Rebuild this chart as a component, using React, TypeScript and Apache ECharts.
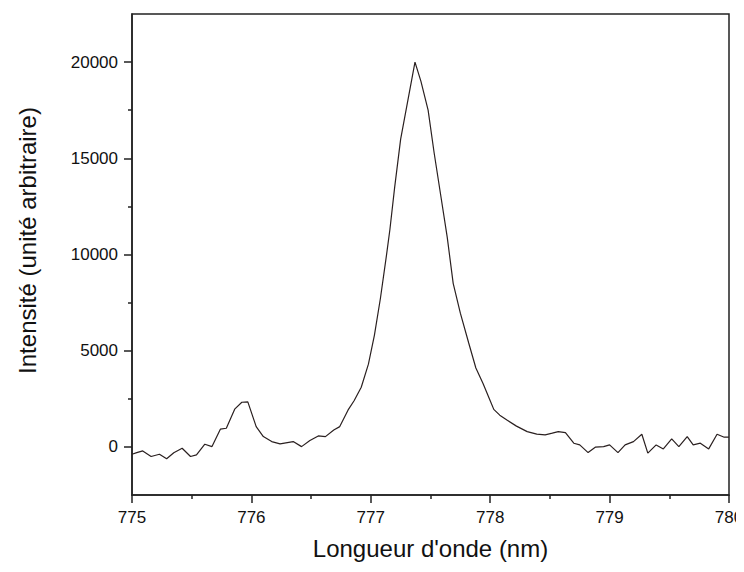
import React, { useEffect, useRef } from "react";
import * as echarts from "echarts";

const wavelengths: number[] = [
  775.0, 775.04, 775.09, 775.16, 775.23, 775.29, 775.35, 775.42, 775.49, 775.54,
  775.61, 775.67, 775.74, 775.79, 775.86, 775.92, 775.97, 776.04, 776.1, 776.17,
  776.24, 776.35, 776.42, 776.49, 776.56, 776.62, 776.69, 776.74, 776.81, 776.86,
  776.92, 776.98, 777.03, 777.08, 777.13, 777.16, 777.2, 777.25, 777.37, 777.42,
  777.48, 777.53, 777.58, 777.64, 777.69, 777.75, 777.82, 777.88, 777.94, 778.0,
  778.03, 778.08, 778.14, 778.22, 778.31, 778.39, 778.46, 778.52, 778.57, 778.63,
  778.7, 778.75, 778.82, 778.88, 778.95, 779.0, 779.07, 779.13, 779.2, 779.27,
  779.32, 779.39, 779.45, 779.52, 779.58, 779.65, 779.7, 779.76, 779.83, 779.9,
  779.96, 780.0,
];

const intensities: number[] = [
  -380, -300, -210, -500, -380, -620, -300, -70, -500, -415,
  140, 15, 920, 970, 1960, 2320, 2340, 1055, 535, 275,
  156, 275, 15, 330, 570, 535, 883, 1055, 1922, 2400,
  3100, 4300, 5800, 7700, 9900, 11300, 13500, 16000, 20000, 19000,
  17500, 15300, 13300, 10900, 8500, 6950, 5400, 4100, 3300, 2400,
  1950, 1650, 1400, 1080, 795, 660, 623, 712, 795, 743,
  192, 104, -296, -16, 15, 104, -296, 104, 275, 660,
  -327, 104, -104, 416, 15, 535, 104, 192, -104, 660,
  504, 504,
];

const xMajorTicks: number[] = [775, 776, 777, 778, 779, 780];
const yMajorTicks: number[] = [0, 5000, 10000, 15000, 20000];
const yMinorTicks: number[] = [2500, 7500, 12500, 17500];

export default function App() {
  const ref = useRef<HTMLDivElement>(null);

  useEffect(() => {
    if (!ref.current) return;
    const chart = echarts.init(ref.current, undefined, { renderer: "svg" });
    const font = "Liberation Sans, Arial, sans-serif";
    const axisColor = "#222222";
    const data = wavelengths.map((w, i) => [w, intensities[i]]);

    chart.setOption({
      animation: false,
      backgroundColor: "#ffffff",
      grid: {
        left: 132,
        right: 15,
        top: 14,
        bottom: 77,
        show: true,
        borderColor: axisColor,
        borderWidth: 1.5,
        outerBoundsMode: "none",
      },
      xAxis: [
        {
          type: "value",
          min: 775,
          max: 780,
          interval: 1,
          name: "Longueur d'onde (nm)",
          nameLocation: "middle",
          nameGap: 41,
          nameTextStyle: { fontFamily: font, fontSize: 24, color: "#111" },
          axisLine: { show: true, onZero: false, lineStyle: { color: axisColor, width: 1.5 } },
          axisTick: { show: true, customValues: xMajorTicks, length: 8, lineStyle: { color: axisColor, width: 1.5 } },
          minorTick: { show: true, splitNumber: 2, length: 4, lineStyle: { color: axisColor, width: 1.5 } },
          axisLabel: {
            customValues: xMajorTicks,
            margin: 14,
            fontFamily: font,
            fontSize: 17,
            color: "#111",
            formatter: (v: number) => String(v),
          },
          splitLine: { show: false },
        },
      ],
      yAxis: [
        {
          type: "value",
          min: -2500,
          max: 22500,
          name: "Intensité (unité arbitraire)",
          nameLocation: "middle",
          nameRotate: 90,
          nameGap: 93,
          nameTextStyle: { fontFamily: font, fontSize: 24, color: "#111", padding: [0, 0, 0, 28] },
          axisLine: { show: true, onZero: false, lineStyle: { color: axisColor, width: 1.5 } },
          axisTick: { show: true, customValues: yMajorTicks, length: 8, lineStyle: { color: axisColor, width: 1.5 } },
          axisLabel: {
            customValues: yMajorTicks,
            margin: 14,
            fontFamily: font,
            fontSize: 17,
            color: "#111",
            formatter: (v: number) => String(v),
          },
          splitLine: { show: false },
        },
        {
          type: "value",
          min: -2500,
          max: 22500,
          position: "left",
          axisLine: { show: false },
          axisTick: { show: true, customValues: yMinorTicks, length: 4, lineStyle: { color: axisColor, width: 1.5 } },
          axisLabel: { show: false },
          splitLine: { show: false },
        },
      ],
      series: [
        {
          type: "line",
          data,
          xAxisIndex: 0,
          yAxisIndex: 0,
          showSymbol: false,
          symbol: "none",
          lineStyle: { color: "#2a2020", width: 1.2 },
        },
      ],
    });

    return () => chart.dispose();
  }, []);

  return <div ref={ref} style={{ width: 744, height: 572, margin: -8 }} />;
}
